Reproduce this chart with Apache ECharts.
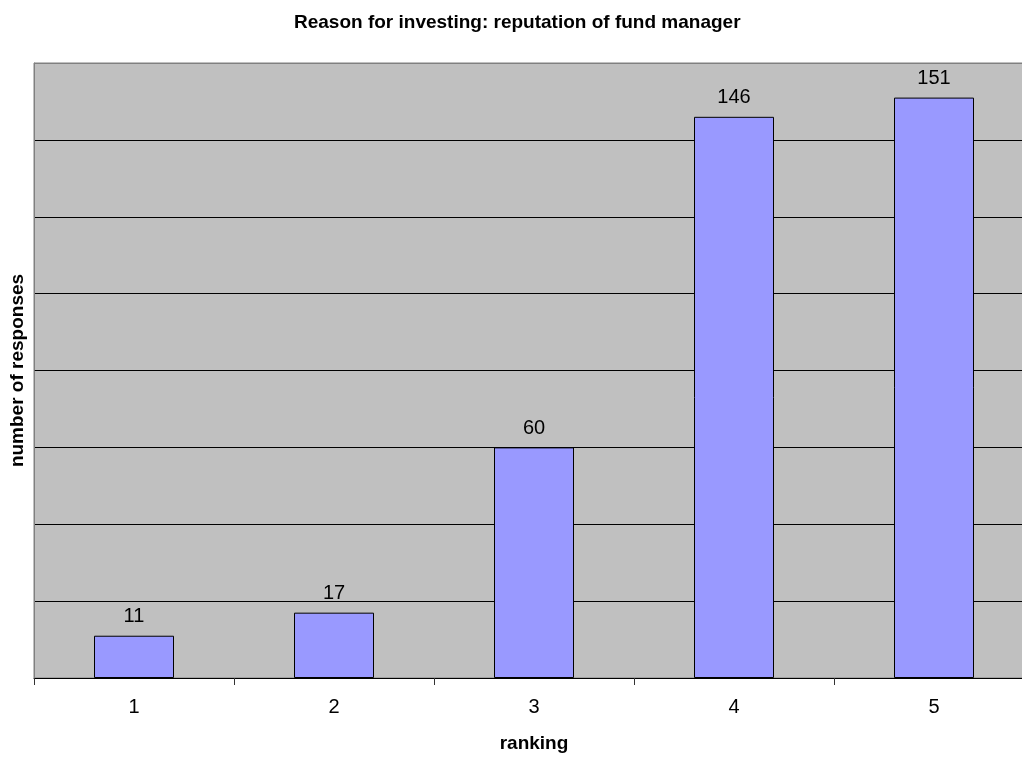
<!DOCTYPE html>
<html>
<head>
<meta charset="utf-8">
<script src="https://cdn.jsdelivr.net/npm/echarts@6/dist/echarts.min.js"></script>
<style>
html,body{margin:0;padding:0;background:#fff;overflow:hidden;width:1022px;height:758px;}
#chart{width:1040px;height:758px;}
</style>
</head>
<body>
<div id="chart"></div>
<script>
const categories = ['1', '2', '3', '4', '5'];
const responses = [11, 17, 60, 146, 151];
const titleText = 'Reason for investing: reputation of fund manager';
const xName = 'ranking';
const yName = 'number of responses';

const chart = echarts.init(document.getElementById('chart'), null, {renderer: 'canvas'});
const font = '"Liberation Sans", Arial, sans-serif';
const gridColors = ['#000','#000','#000','#000','#000','#000','#000','#000','#808080'];
chart.setOption({
  animation: false,
  backgroundColor: '#fff',
  title: {
    text: titleText,
    left: 289,
    top: 8,
    textStyle: {fontFamily: font, fontSize: 19, fontWeight: 'bold', color: '#000'}
  },
  grid: {
    left: 34, right: 6, top: 63, bottom: 79,
    show: true, backgroundColor: '#C0C0C0', borderColor: '#808080', borderWidth: 1,
    containLabel: false
  },
  xAxis: {
    type: 'category',
    data: categories,
    name: xName,
    nameLocation: 'middle',
    nameGap: 56,
    nameTextStyle: {fontFamily: font, fontSize: 19, fontWeight: 'bold', color: '#000'},
    axisLine: {show: true, lineStyle: {color: '#000', width: 1}},
    axisTick: {show: true, length: 7, lineStyle: {color: '#333'}},
    axisLabel: {fontFamily: font, fontSize: 20, color: '#000', margin: 19}
  },
  yAxis: {
    type: 'value',
    min: 0, max: 160, interval: 20,
    name: yName,
    nameLocation: 'middle',
    nameGap: 7,
    nameTextStyle: {fontFamily: font, fontSize: 19, fontWeight: 'bold', color: '#000'},
    axisLine: {show: true, lineStyle: {color: '#808080'}},
    axisTick: {show: false},
    axisLabel: {show: false},
    splitLine: {show: true, lineStyle: {color: gridColors, width: 1}}
  },
  series: [{
    type: 'bar',
    data: responses,
    barWidth: '40%',
    itemStyle: {color: '#9999FF', borderColor: '#000', borderWidth: 1},
    label: {show: true, position: 'top', distance: 9, fontFamily: font, fontSize: 20, color: '#000'}
  }]
});
</script>
</body>
</html>
